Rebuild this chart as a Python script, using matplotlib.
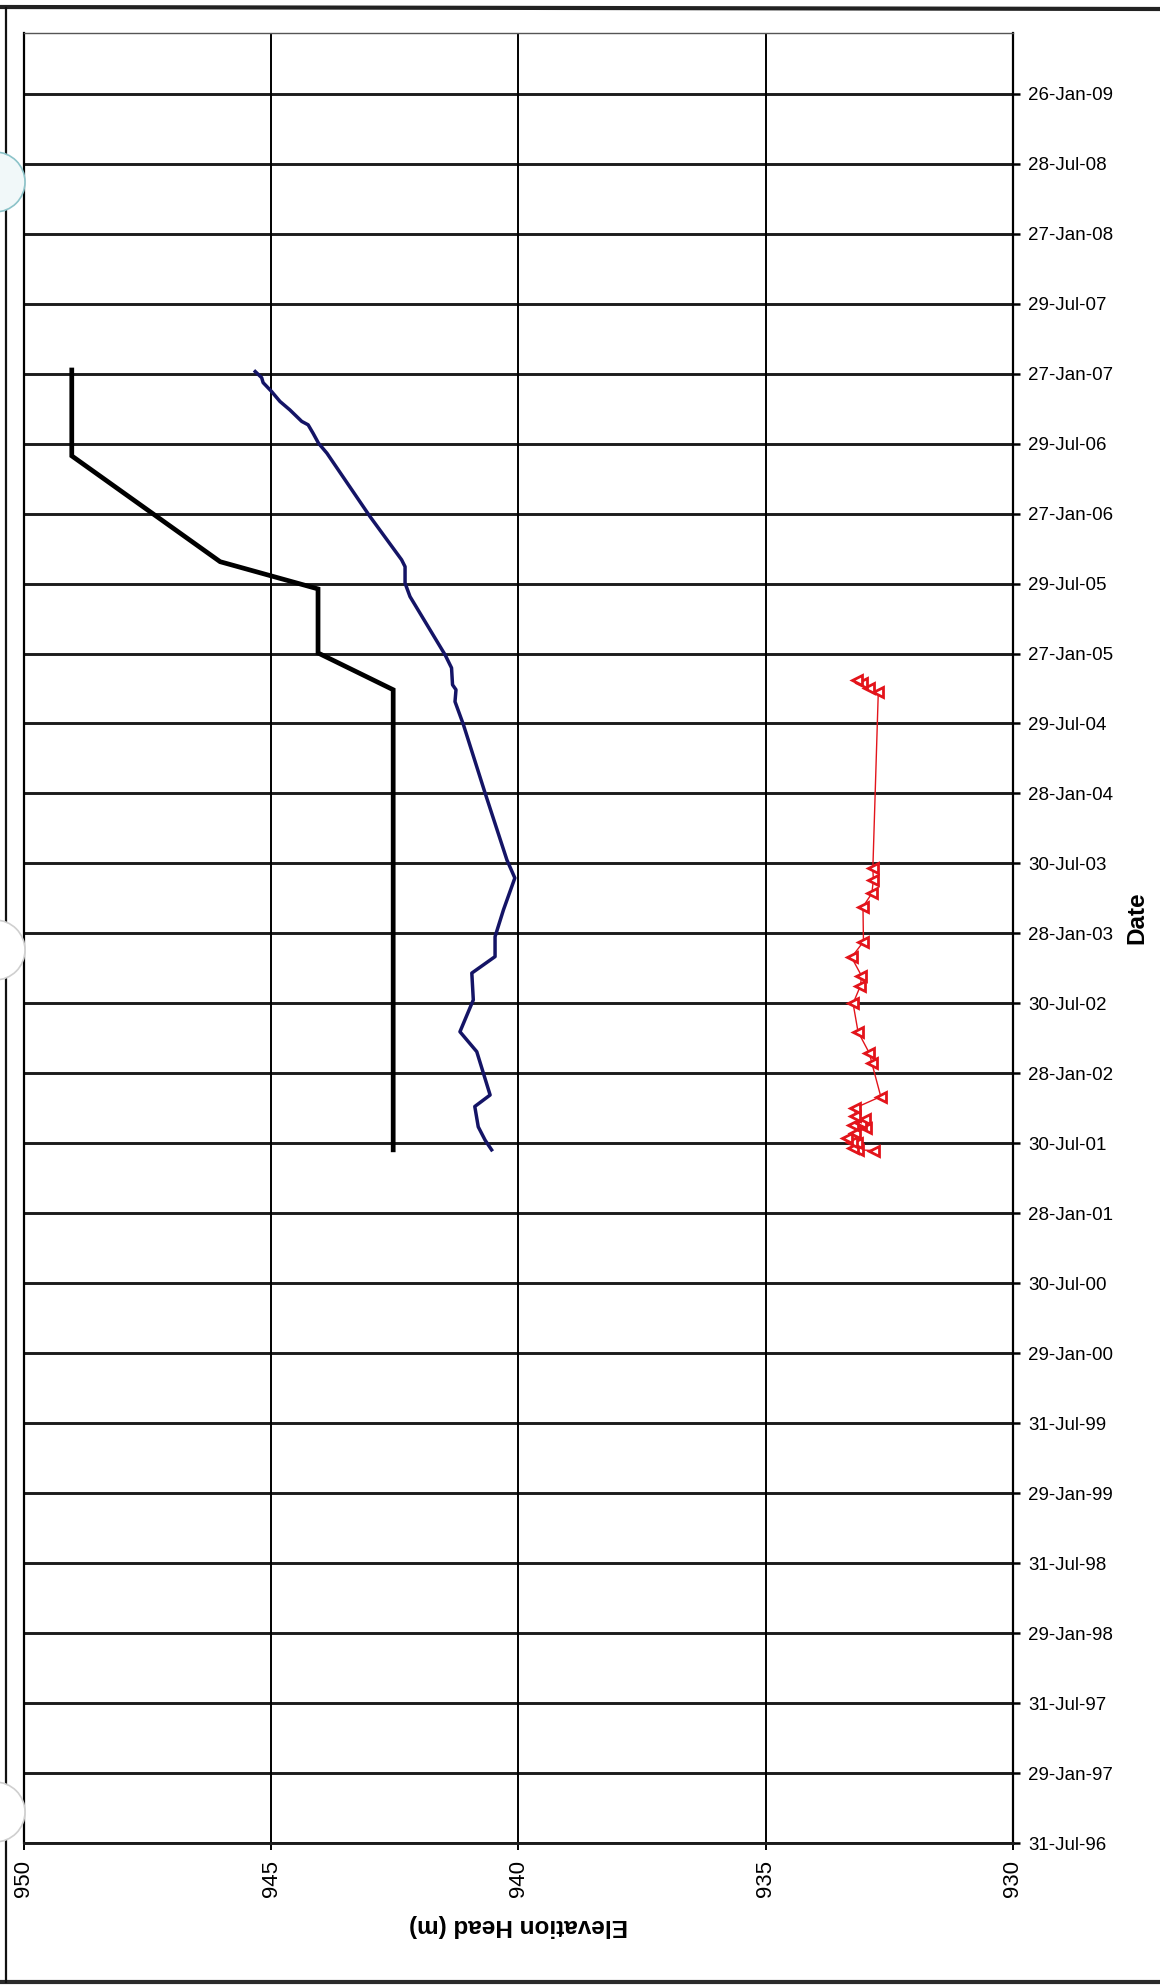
import datetime as dt
import matplotlib
matplotlib.use("Agg")
import matplotlib.pyplot as plt
import matplotlib.dates as mdates
from matplotlib.lines import Line2D
from matplotlib.patches import Circle

plt.rcParams["font.family"] = ["Liberation Sans", "DejaVu Sans"]

# ---- data ---------------------------------------------------------------
# Elevation head (m) vs. date for three monitoring records
black_dates = ["2001-07-13", "2004-10-25", "2005-01-29", "2005-07-15",
               "2005-09-24", "2006-06-27", "2007-02-06"]
black_elev = [942.53, 942.53, 944.05, 944.05, 946.03, 949.03, 949.03]

blue_dates = ["2001-07-13", "2001-08-07", "2001-09-11", "2001-11-03", "2001-12-03",
              "2002-03-26", "2002-05-17", "2002-08-08", "2002-10-17", "2002-11-29",
              "2003-01-20", "2003-03-31", "2003-06-22", "2003-08-08", "2004-01-29",
              "2004-07-26", "2004-09-24", "2004-10-25", "2004-11-07", "2004-12-21",
              "2005-01-24", "2005-06-25", "2005-07-30", "2005-09-11", "2005-09-29",
              "2006-01-20", "2006-07-04", "2006-07-30", "2006-08-25", "2006-09-16",
              "2006-09-25", "2006-10-25", "2006-11-16", "2006-12-12", "2007-01-04",
              "2007-01-17", "2007-02-02"]
blue_elev = [940.54, 940.67, 940.81, 940.88, 940.57,
             940.84, 941.18, 940.91, 940.94, 940.47,
             940.47, 940.30, 940.07, 940.23, 940.67,
             941.11, 941.28, 941.26, 941.33, 941.35,
             941.48, 942.19, 942.29, 942.29, 942.36,
             943.00, 943.87, 944.04, 944.15, 944.25,
             944.38, 944.62, 944.82, 944.99, 945.16,
             945.19, 945.32]

red_dates = ["2001-07-11", "2001-07-13", "2001-07-17", "2001-07-30", "2001-08-03",
             "2001-08-12", "2001-08-26", "2001-09-08", "2001-09-16", "2001-09-21",
             "2001-10-01", "2001-10-08", "2001-10-30", "2001-11-29", "2002-02-24",
             "2002-03-22", "2002-05-17", "2002-07-30", "2002-09-14", "2002-10-10",
             "2002-11-27", "2003-01-07", "2003-04-08", "2003-05-13", "2003-06-17",
             "2003-07-17", "2004-10-19", "2004-10-30", "2004-11-12", "2004-11-20"]
red_elev = [932.80, 933.13, 933.23, 933.16, 933.26,
            933.36, 933.19, 932.96, 933.23, 933.06,
            932.99, 933.19, 933.19, 932.67, 932.85,
            932.90, 933.13, 933.23, 933.08, 933.06,
            933.26, 933.02, 933.03, 932.85, 932.82,
            932.83, 932.72, 932.90, 933.04, 933.16]

elev_ticks = [950, 945, 940, 935, 930]
date_tick_labels = ["31-Jul-96", "29-Jan-97", "31-Jul-97", "29-Jan-98", "31-Jul-98",
                    "29-Jan-99", "31-Jul-99", "29-Jan-00", "30-Jul-00", "28-Jan-01",
                    "30-Jul-01", "28-Jan-02", "30-Jul-02", "28-Jan-03", "30-Jul-03",
                    "28-Jan-04", "29-Jul-04", "27-Jan-05", "29-Jul-05", "27-Jan-06",
                    "29-Jul-06", "27-Jan-07", "29-Jul-07", "27-Jan-08", "28-Jul-08",
                    "26-Jan-09"]
date_start = "1996-07-31"
date_step_days = 182.5
date_end = "2009-07-04"


def to_num(s):
    return mdates.date2num(dt.datetime.strptime(s, "%Y-%m-%d"))


# ---- figure -------------------------------------------------------------
W, H = 1160, 1986
fig = plt.figure(figsize=(W / 100, H / 100), dpi=100)
fig.patch.set_facecolor("white")

ax_left, ax_right = 23.8 / W, 1012.8 / W
ax_top, ax_bot = 1 - 33 / H, 1 - 1843 / H
ax = fig.add_axes([ax_left, ax_bot, ax_right - ax_left, ax_top - ax_bot])

# horizontal date grid (thick) and vertical elevation grid (thin)
t0 = to_num(date_start)
date_ticks = [t0 + k * date_step_days for k in range(len(date_tick_labels))]
for yv in date_ticks:
    ax.axhline(yv, color="#1c1c1c", lw=2.1, zorder=1)
for xv in elev_ticks[1:-1]:
    ax.axvline(xv, color="black", lw=1.4, zorder=1)

ax.plot(black_elev, [to_num(d) for d in black_dates], color="black", lw=3.4,
        solid_joinstyle="miter", zorder=3)
ax.plot(blue_elev, [to_num(d) for d in blue_dates], color="#141466", lw=2.5,
        zorder=3)
ax.plot(red_elev, [to_num(d) for d in red_dates], color="#e3141b", lw=1.0,
        marker="<", markersize=7, markerfacecolor="white",
        markeredgecolor="#e3141b", markeredgewidth=2.0, zorder=4)

ax.set_xlim(950, 930)
ax.set_ylim(t0, to_num(date_end))
ax.set_xticks(elev_ticks)
ax.set_xticklabels([str(v) for v in elev_ticks], rotation=90, fontsize=16)
ax.set_yticks(date_ticks)
ax.set_yticklabels(date_tick_labels, fontsize=13.5)
ax.yaxis.tick_right()
ax.tick_params(axis="x", direction="out", length=5, width=1.4, pad=7,
               colors="black")
ax.tick_params(axis="y", direction="out", length=5, width=1.8, pad=6,
               colors="black", left=False)

for side in ("left", "right"):
    ax.spines[side].set_color("black")
    ax.spines[side].set_linewidth(1.6)
ax.spines["top"].set_color("#555555")
ax.spines["top"].set_linewidth(1.0)
ax.spines["bottom"].set_color("#1c1c1c")
ax.spines["bottom"].set_linewidth(2.1)

fig.text(518 / W, 1 - 1925 / H, "Elevation Head (m)", rotation=180,
         ha="center", va="center", fontsize=17.5, fontweight="bold")
fig.text(1137 / W, 1 - 918 / H, "Date", rotation=90, ha="center",
         va="center", fontsize=17.5, fontweight="bold")

# page frame
fig.add_artist(Line2D([0, 1], [1 - 7 / H, 1 - 9 / H], color="#222222", lw=3.0))
fig.add_artist(Line2D([0, 1], [1 - 1982 / H, 1 - 1982 / H], color="#2a2a2a", lw=3.0))
fig.add_artist(Line2D([6 / W, 6 / W], [1 - 8 / H, 1 - 1982 / H], color="#111111", lw=1.6))

# punched holes along the left margin
for cy, edge, face in [(182, "#8cc3c9", "#f1f8f9"), (950, "#cfcfcf", "white"),
                       (1812, "#cfcfcf", "white")]:
    fig.add_artist(Circle((-0.05, (H - cy) / 100), 0.30,
                          transform=fig.dpi_scale_trans, facecolor=face,
                          edgecolor=edge, lw=1.2, zorder=10))

fig.savefig("out.png", dpi=100)
